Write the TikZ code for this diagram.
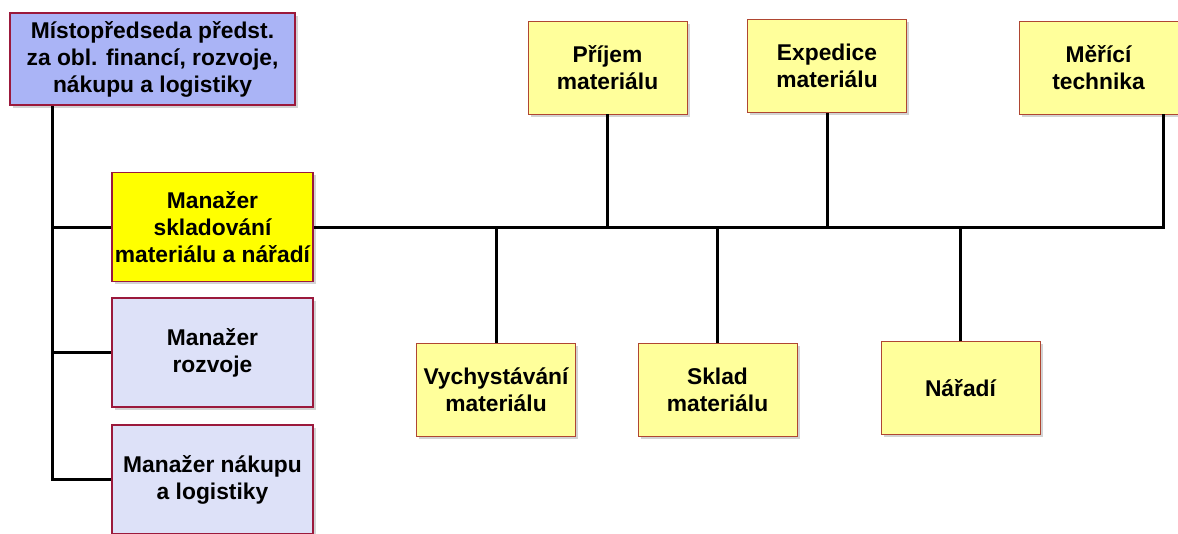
\documentclass[tikz,border=0pt]{standalone}
\usepackage{fontspec}
\setmainfont{Liberation Sans}
\usetikzlibrary{shadows}
\definecolor{lblue}{RGB}{170,180,246}
\definecolor{lav}{RGB}{221,225,248}
\definecolor{lyel}{RGB}{255,255,155}
\definecolor{byel}{RGB}{255,255,0}
\definecolor{maroon}{RGB}{155,25,60}
\definecolor{brn}{RGB}{175,70,50}
\tikzset{
  x=1pt, y=-1pt,
  box/.style={rectangle, align=center, inner sep=0pt,
    font=\bfseries\fontsize{22.8}{27}\selectfont,
    drop shadow={shadow xshift=2.5pt, shadow yshift=-2.5pt, opacity=0.35}},
  mgr/.style={box, draw=maroon, line width=1.8pt, minimum width=201pt, minimum height=109pt},
  dept/.style={box, draw=brn, line width=0.9pt, fill=lyel, minimum width=159pt, minimum height=93pt},
  conn/.style={draw=black, line width=3pt},
}
\begin{document}
\begin{tikzpicture}
\useasboundingbox (0,0) rectangle (1178,533);
\node[mgr, fill=lblue, minimum width=285pt, minimum height=92pt] (top) at (152.5,59)
  {Místopředseda předst.\\za obl. financí, rozvoje,\\nákupu a logistiky};
\node[mgr, fill=byel] (msk) at (212.5,227) {Manažer\\skladování\\materiálu a nářadí};
\node[mgr, fill=lav] (mroz) at (212.5,352.5) {Manažer\\rozvoje};
\node[mgr, fill=lav] (mnak) at (212.5,479.5) {Manažer nákupu\\a logistiky};

\node[dept] (prij) at (607.5,67.5) {Příjem\\materiálu};
\node[dept] (exp) at (827,66) {Expedice\\materiálu};
\node[dept] (mer) at (1098.5,67.5) {Měřící\\technika};
\node[dept] (vych) at (496,389.5) {Vychystávání\\materiálu};
\node[dept] (skl) at (717.5,389.5) {Sklad\\materiálu};
\node[dept] (nar) at (960.5,388) {Nářadí};

\coordinate (trunk) at (52,105);
\coordinate (busend) at (1163,227);

\draw[conn] (trunk |- top.south) -- (trunk |- mnak.west) -- (mnak.west);
\draw[conn] (trunk |- msk.west) -- (msk.west);
\draw[conn] (trunk |- mroz.west) -- (mroz.west);

\draw[conn] (msk.east) -- (busend) -- (busend |- mer.south);
\draw[conn] (prij.south) -- (prij.south |- busend);
\draw[conn] (exp.south) -- (exp.south |- busend);
\draw[conn] (vych.north) -- (vych.north |- busend);
\draw[conn] (skl.north) -- (skl.north |- busend);
\draw[conn] (nar.north) -- (nar.north |- busend);
\end{tikzpicture}
\end{document}
